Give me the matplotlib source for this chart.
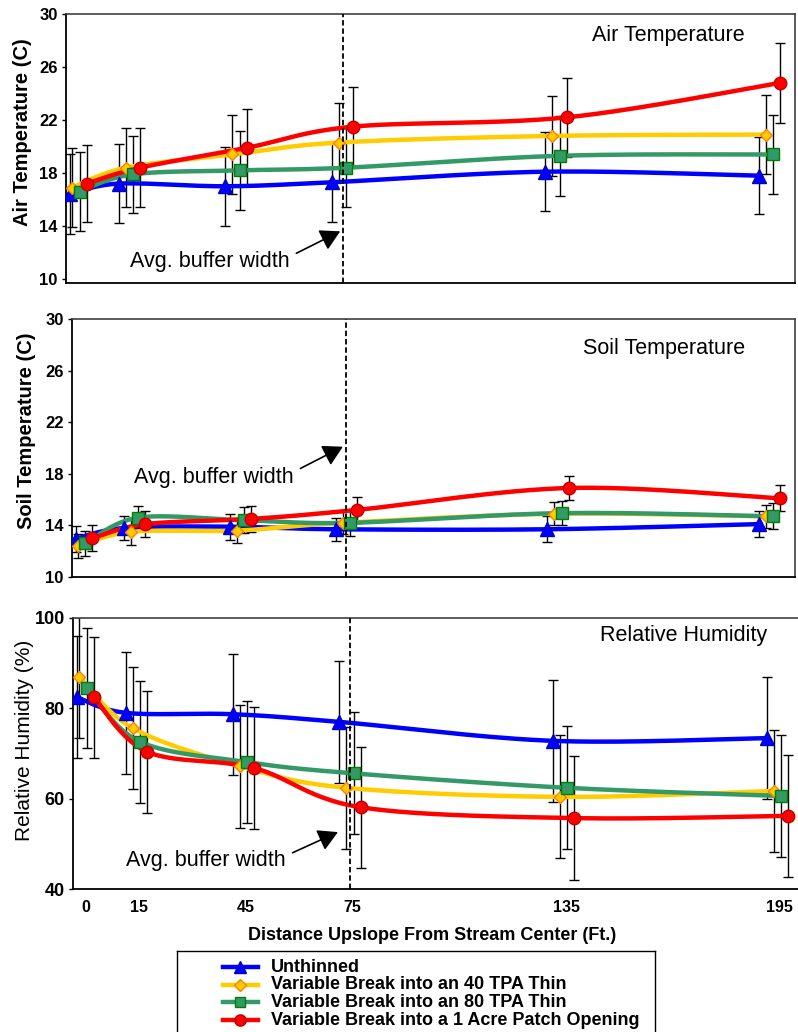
import numpy as np
import matplotlib
matplotlib.use("Agg")
import matplotlib.pyplot as plt

plt.rcParams["font.family"] = ["Liberation Sans", "DejaVu Sans"]

# distance upslope (ft) of each point; treatments are plotted a little apart
x_unthinned = [-4.8, 9, 39, 69, 129, 189]
x_tpa40 = [-4, 11, 41, 71, 131, 191]
x_tpa80 = [-2, 13, 43, 73, 133, 193]
x_patch = [0, 15, 45, 75, 135, 195]
dist_ticks = [0, 15, 45, 75, 135, 195]
buffer_width = 72

labels = ["Unthinned",
          "Variable Break into an 40 TPA Thin",
          "Variable Break into an 80 TPA Thin",
          "Variable Break into a 1 Acre Patch Opening"]

# air temperature (C)
air_unthinned = [16.4, 17.2, 17.0, 17.3, 18.1, 17.8]
air_tpa40 = [16.9, 18.4, 19.4, 20.3, 20.8, 20.9]
air_tpa80 = [16.6, 17.9, 18.2, 18.4, 19.3, 19.4]
air_patch = [17.2, 18.4, 19.9, 21.5, 22.2, 24.8]
air_err_unthinned = [3.0, 3.0, 3.0, 3.0, 3.0, 2.9]
air_err_tpa40 = [3.0, 3.0, 3.0, 3.0, 3.0, 3.0]
air_err_tpa80 = [3.0, 2.9, 3.0, 3.0, 3.0, 3.0]
air_err_patch = [2.9, 3.0, 2.9, 3.0, 3.0, 3.0]

# soil temperature (C)
soil_unthinned = [12.95, 13.8, 13.9, 13.7, 13.7, 14.1]
soil_tpa40 = [12.4, 13.5, 13.6, 14.2, 14.9, 14.7]
soil_tpa80 = [12.6, 14.6, 14.4, 14.2, 14.95, 14.7]
soil_patch = [13.0, 14.1, 14.5, 15.2, 16.9, 16.1]
soil_err_unthinned = [1.0, 0.95, 1.0, 0.9, 1.0, 1.0]
soil_err_tpa40 = [0.9, 1.0, 1.0, 0.9, 0.9, 0.9]
soil_err_tpa80 = [1.0, 0.9, 1.0, 1.0, 0.95, 1.0]
soil_err_patch = [1.0, 1.0, 1.0, 1.0, 0.95, 1.0]

# relative humidity (%)
rh_unthinned = [82.5, 79.0, 78.7, 77.0, 72.8, 73.4]
rh_tpa40 = [86.9, 75.6, 67.2, 62.4, 60.4, 61.7]
rh_tpa80 = [84.5, 72.6, 68.1, 65.6, 62.4, 60.6]
rh_patch = [82.5, 70.4, 66.8, 58.1, 55.7, 56.2]
rh_err_unthinned = [13.5, 13.5, 13.4, 13.5, 13.5, 13.5]
rh_err_tpa40 = [13.4, 13.5, 13.6, 13.5, 13.6, 13.4]
rh_err_tpa80 = [13.3, 13.5, 13.5, 13.5, 13.6, 13.5]
rh_err_patch = [13.4, 13.5, 13.5, 13.4, 13.7, 13.5]

styles = [
    dict(color="#0000FF", marker="^", mfc="#0000FF", mec="#0000C0", ms=9.5),
    dict(color="#FFCC00", marker="D", mfc="#FFCC00", mec="#FF8000", ms=6.3),
    dict(color="#339966", marker="s", mfc="#339966", mec="#008000", ms=8.3),
    dict(color="#FF0000", marker="o", mfc="#FF0000", mec="#C00000", ms=9.0),
]
xs = [x_unthinned, x_tpa40, x_tpa80, x_patch]


def smooth(x, y, n=30):
    # Excel-style smoothed line (Catmull-Rom as cubic Bezier)
    P = np.column_stack([x, y]).astype(float)
    E = np.vstack([P[0], P, P[-1]])
    t = np.linspace(0, 1, n)[:, None]
    parts = []
    for i in range(len(P) - 1):
        p0, p1, p2, p3 = E[i], E[i + 1], E[i + 2], E[i + 3]
        c1 = p1 + (p2 - p0) / 6
        c2 = p2 - (p3 - p1) / 6
        seg = (1 - t) ** 3 * p1 + 3 * (1 - t) ** 2 * t * c1 + 3 * (1 - t) * t ** 2 * c2 + t ** 3 * p2
        parts.append(seg if i == 0 else seg[1:])
    S = np.vstack(parts)
    return S[:, 0], S[:, 1]


W, H = 798, 1032
fig = plt.figure(figsize=(W / 100, H / 100), dpi=100)


def px_axes(left, top, right, bottom):
    return fig.add_axes([left / W, 1 - bottom / H, (right - left) / W, (bottom - top) / H])


def draw_panel(ax, ys, errs, ylim, yticks, tick_fs):
    for x, y, e, st in zip(xs, ys, errs, styles):
        ax.errorbar(x, y, yerr=e, fmt="none", ecolor="black", elinewidth=1.0,
                    capsize=3.6, capthick=1.0, zorder=2)
    for x, y, st in zip(xs, ys, styles):
        sx, sy = smooth(x, y)
        ax.plot(sx, sy, color=st["color"], lw=3.2, zorder=3, solid_capstyle="round")
    for x, y, st in zip(xs, ys, styles):
        ax.plot(x, y, ls="none", marker=st["marker"], mfc=st["mfc"], mec=st["mec"],
                ms=st["ms"], mew=1.0, zorder=4)
    ax.axvline(buffer_width, color="black", lw=1.3, ls=(0, (3.0, 1.6)), zorder=6)
    ax.set_xlim(-5.8, 199.2)
    ax.set_ylim(*ylim)
    ax.set_yticks(yticks)
    ax.set_yticklabels([str(v) for v in yticks], fontsize=tick_fs, fontweight="bold")
    ax.tick_params(axis="y", direction="out", length=3, width=1, pad=3)
    ax.tick_params(axis="x", length=0)
    for s in ["left", "bottom"]:
        ax.spines[s].set_color("black")
        ax.spines[s].set_linewidth(1.3)
    for s in ["top", "right"]:
        ax.spines[s].set_color("#404040")
        ax.spines[s].set_linewidth(1.2)


def buffer_note(ax, text_xy, tip_xy):
    ax.annotate("Avg. buffer width", xy=tip_xy, xytext=text_xy, ha="center", va="center",
                fontsize=15.5, zorder=7,
                arrowprops=dict(arrowstyle="-|>,head_length=0.75,head_width=0.42",
                                color="black", lw=1.2, mutation_scale=16,
                                relpos=(1.0, 0.75), shrinkA=3, shrinkB=0))


# Air temperature
ax1 = px_axes(66, 14, 795, 283)
draw_panel(ax1, [air_unthinned, air_tpa40, air_tpa80, air_patch],
           [air_err_unthinned, air_err_tpa40, air_err_tpa80, air_err_patch],
           (9.7, 30), [10, 14, 18, 22, 26, 30], 12)
ax1.set_xticks([])
buffer_note(ax1, (34.7, 11.3), (71.3, 13.6))

# Soil temperature
ax2 = px_axes(72, 319, 795, 577)
draw_panel(ax2, [soil_unthinned, soil_tpa40, soil_tpa80, soil_patch],
           [soil_err_unthinned, soil_err_tpa40, soil_err_tpa80, soil_err_patch],
           (10, 30), [10, 14, 18, 22, 26, 30], 12)
ax2.set_xticks([])
buffer_note(ax2, (34.5, 17.75), (71.0, 20.1))

# Relative humidity
ax3 = px_axes(73, 618, 803, 889)
draw_panel(ax3, [rh_unthinned, rh_tpa40, rh_tpa80, rh_patch],
           [rh_err_unthinned, rh_err_tpa40, rh_err_tpa80, rh_err_patch],
           (40, 100), [40, 60, 80, 100], 13)
ax3.set_xticks([d - 2.3 for d in dist_ticks])
ax3.set_xticklabels([str(d) for d in dist_ticks], fontsize=11.5, fontweight="bold")
ax3.tick_params(axis="x", length=0, pad=8)
buffer_note(ax3, (31.6, 46.2), (68.6, 52.6))

# axis titles and panel names
fig.text(23 / W, 1 - 132 / H, "Air Temperature (C)", rotation=90, ha="center", va="center",
         fontsize=14.5, fontweight="bold")
fig.text(27 / W, 1 - 431 / H, "Soil Temperature (C)", rotation=90, ha="center", va="center",
         fontsize=14.5, fontweight="bold")
fig.text(25 / W, 1 - 740 / H, "Relative Humidity (%)", rotation=90, ha="center", va="center",
         fontsize=15)
fig.text(745 / W, 1 - 35 / H, "Air Temperature", ha="right", va="center", fontsize=15.5)
fig.text(745 / W, 1 - 349 / H, "Soil Temperature", ha="right", va="center", fontsize=15.5)
fig.text(767 / W, 1 - 636 / H, "Relative Humidity", ha="right", va="center", fontsize=15.5)
fig.text(432 / W, 1 - 935 / H, "Distance Upslope From Stream Center (Ft.)", ha="center",
         va="center", fontsize=13, fontweight="bold")

# legend box (runs off the bottom edge like the original)
lax = px_axes(177, 951, 655, 1045)
lax.set_xlim(177, 655)
lax.set_ylim(1045, 951)
lax.set_xticks([])
lax.set_yticks([])
for s in lax.spines.values():
    s.set_color("black")
    s.set_linewidth(1.0)
for row, (lab, st) in enumerate(zip(labels, styles)):
    yy = 967 + row * 17.7
    lax.plot([223, 258], [yy, yy], color=st["color"], lw=3.2)
    lax.plot([240.5], [yy], ls="none", marker=st["marker"], mfc=st["mfc"], mec=st["mec"],
             ms=st["ms"] * 0.9, mew=1.0)
    lax.text(271, yy, lab, ha="left", va="center", fontsize=13, fontweight="bold")

fig.savefig("out.png", dpi=100)
